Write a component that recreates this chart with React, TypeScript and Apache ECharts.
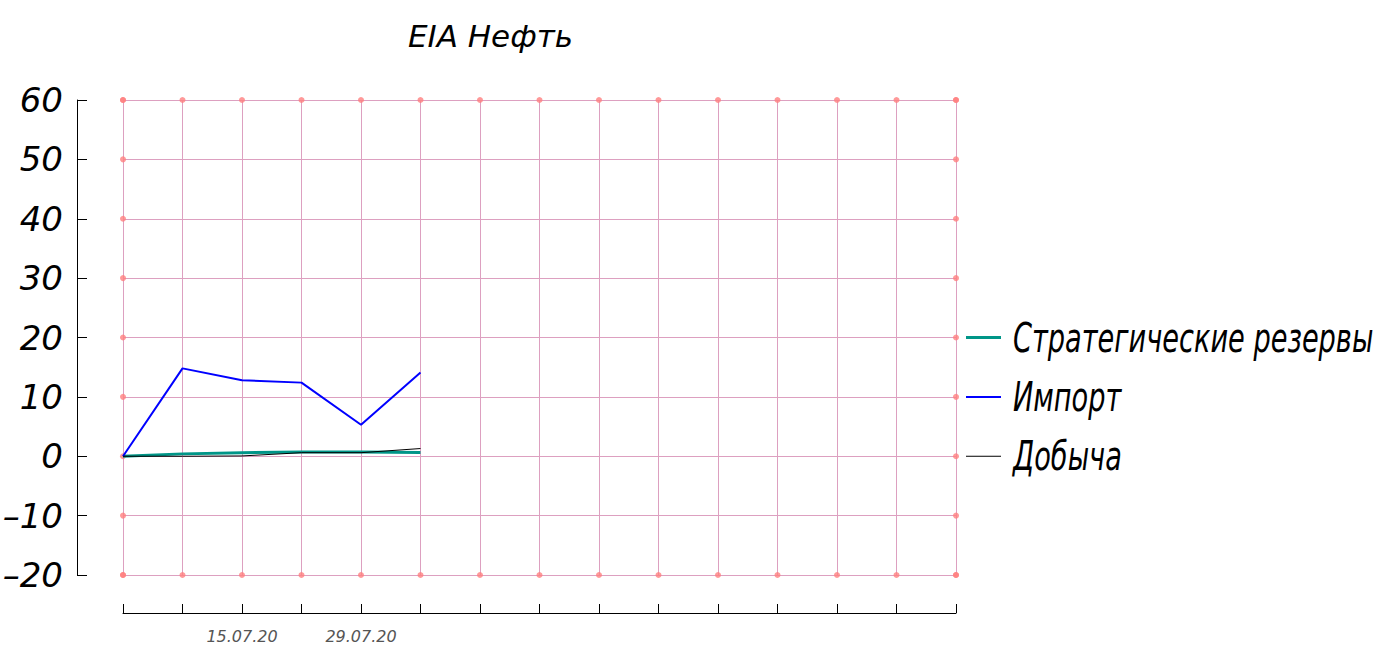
import React, { useEffect, useRef } from "react";
import * as echarts from "echarts";

const FONT = "'DejaVu Sans', sans-serif";

const categories = [
  "01.07.20", "08.07.20", "15.07.20", "22.07.20", "29.07.20", "05.08.20", "12.08.20",
  "19.08.20", "26.08.20", "02.09.20", "09.09.20", "16.09.20", "23.09.20", "30.09.20", "07.10.20",
];
const shownXLabels = ["15.07.20", "29.07.20"];
const yTicks = [-20, -10, 0, 10, 20, 30, 40, 50, 60];

const reserves = [0, 0.4, 0.6, 0.7, 0.7, 0.65];
const imports = [0, 14.8, 12.8, 12.4, 5.3, 14.1];
const production = [0, 0, 0.05, 0.6, 0.6, 1.3];

const seriesNames = ["Стратегические резервы", "Импорт", "Добыча"];
const seriesColors = ["#009688", "#0000ff", "#000000"];
const seriesWidths = [3, 2, 1];
const title = "EIA Нефть";

export default function App() {
  const ref = useRef<HTMLDivElement>(null);
  useEffect(() => {
    if (!ref.current) return;
    const chart = echarts.init(ref.current, undefined, { renderer: "svg" });
    const yMin = yTicks[0];
    const yMax = yTicks[yTicks.length - 1];
    const last = categories.length - 1;
    const borderDots: [number, number][] = [];
    categories.forEach((_, i) => {
      borderDots.push([i, yMin]);
      borderDots.push([i, yMax]);
    });
    yTicks.forEach((v) => {
      borderDots.push([0, v]);
      borderDots.push([last, v]);
    });
    const textBase = { fontFamily: FONT, fontStyle: "italic", fontWeight: "normal", color: "#000" };
    const seriesData = [reserves, imports, production];
    // legend rows sit on the 20, 10 and 0 grid lines, as in the reference
    const legendRowValues = [20, 10, 0];
    const legendTop = 100;
    const pxPerUnit = (575 - 100) / (yMax - yMin);
    const legendItems = seriesNames.map((name, i) => {
      const cy = legendTop + (yMax - legendRowValues[i]) * pxPerUnit;
      return {
        type: "group",
        children: [
          {
            type: "line",
            shape: { x1: 966, y1: cy, x2: 1001, y2: cy },
            style: { stroke: seriesColors[i], lineWidth: seriesWidths[i] },
            silent: true,
          },
          {
            type: "text",
            x: 1013,
            y: cy,
            scaleX: 0.68,
            style: {
              text: name,
              x: 0,
              y: 0,
              verticalAlign: "middle",
              align: "left",
              font: `italic normal 40px ${FONT}`,
              fill: "#000",
            },
            silent: true,
          },
        ],
      };
    });
    chart.setOption({
      animation: false,
      backgroundColor: "#ffffff",
      title: {
        text: title,
        left: 403,
        top: 15,
        textStyle: { ...textBase, fontSize: 31 },
      },
      grid: { left: 123, right: 1394 - 956, top: 100, bottom: 661 - 575, containLabel: false, outerBoundsMode: "none" },
      graphic: legendItems,
      xAxis: {
        type: "category",
        data: categories,
        boundaryGap: false,
        offset: 38,
        axisLine: { show: true, onZero: false, lineStyle: { color: "#000", width: 1 } },
        axisTick: { show: true, inside: true, length: 9, lineStyle: { color: "#000" } },
        axisLabel: {
          interval: 0,
          margin: 15,
          ...textBase,
          fontSize: 16,
          color: "#555",
          formatter: (v: string) => (shownXLabels.includes(v) ? v : ""),
        },
        splitLine: { show: true, lineStyle: { color: "#dda0c0", width: 1 } },
      },
      yAxis: {
        type: "value",
        min: yMin,
        max: yMax,
        interval: 10,
        offset: 46,
        axisLine: { show: true, lineStyle: { color: "#000", width: 1 } },
        axisTick: { show: true, inside: true, length: 10, lineStyle: { color: "#000" } },
        axisLabel: {
          margin: 14,
          ...textBase,
          fontSize: 34,
          formatter: (v: number) => (v < 0 ? "–" + Math.abs(v) : String(v)),
        },
        splitLine: { show: true, lineStyle: { color: "#dda0c0", width: 1 } },
      },
      series: [
        {
          name: "border",
          type: "scatter",
          data: borderDots,
          symbolSize: 6,
          itemStyle: { color: "#ff8080" },
          silent: true,
          z: 1,
        },
        ...seriesNames.map((name, i) => ({
          name,
          type: "line",
          data: seriesData[i],
          symbol: "none",
          lineStyle: { color: seriesColors[i], width: seriesWidths[i] },
          itemStyle: { color: seriesColors[i] },
          z: 3 + i,
        })),
      ],
    });
    return () => chart.dispose();
  }, []);
  return <div ref={ref} style={{ position: "fixed", left: 0, top: 0, width: 1394, height: 661 }} />;
}
